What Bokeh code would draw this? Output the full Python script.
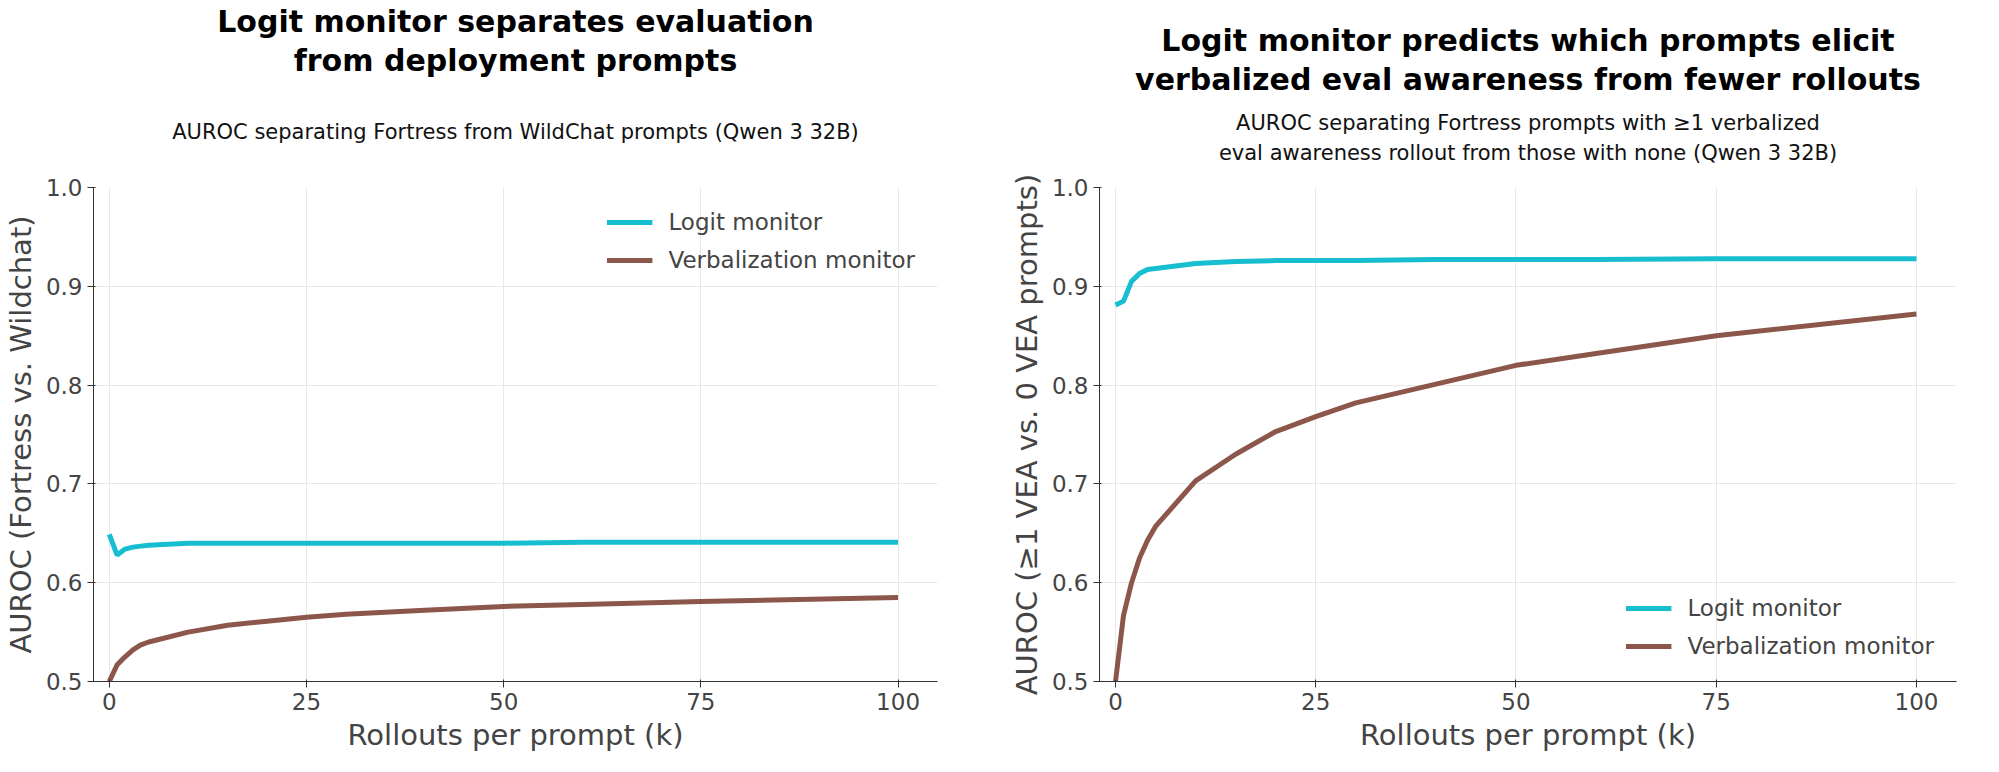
from bokeh.plotting import figure
from bokeh.layouts import row
from bokeh.models import Title, Legend, LegendItem, FixedTicker, Range1d, NumeralTickFormatter
from bokeh.embed import file_html
from bokeh.resources import INLINE

x_left = [0, 1, 2, 3, 4, 5, 10, 15, 20, 25, 30, 40, 50, 60, 75, 100]
left_logit = [0.649, 0.628, 0.634, 0.636, 0.637, 0.638, 0.640, 0.640, 0.640, 0.640, 0.640, 0.640, 0.640, 0.641, 0.641, 0.641]
left_verbal = [0.500, 0.517, 0.525, 0.532, 0.537, 0.540, 0.550, 0.557, 0.561, 0.565, 0.568, 0.572, 0.576, 0.578, 0.581, 0.585]

x_right = [0, 1, 2, 3, 4, 5, 10, 15, 20, 25, 30, 40, 50, 60, 75, 100]
right_logit = [0.881, 0.885, 0.905, 0.913, 0.917, 0.918, 0.923, 0.925, 0.926, 0.926, 0.926, 0.927, 0.927, 0.927, 0.928, 0.928]
right_verbal = [0.500, 0.567, 0.600, 0.625, 0.643, 0.657, 0.703, 0.730, 0.753, 0.768, 0.782, 0.801, 0.820, 0.832, 0.850, 0.872]

x_ticks = [0, 25, 50, 75, 100]
y_ticks = [0.5, 0.6, 0.7, 0.8, 0.9, 1.0]

CYAN = "#17becf"
BROWN = "#8c564b"
FONT = "DejaVu Sans"


def spacer(px):
    return Title(text=" ", text_font=FONT, text_font_size=f"{px}px", standoff=0)


def make(xs, logit, verbal, title_lines, sub_lines, gap_frame, gap_mid, ylabel, legend_loc, width, bl, br):
    p = figure(output_backend="svg", toolbar_location=None,
               width=width, height=754,
               x_range=Range1d(-2, 105), y_range=Range1d(0.5, 1.0),
               min_border_left=bl, min_border_right=br, min_border_top=182, min_border_bottom=72)
    p.outline_line_color = None
    p.add_layout(spacer(gap_frame), "above")
    for t in reversed(sub_lines):
        p.add_layout(Title(text=t, text_font=FONT, text_font_size="21px", text_font_style="normal",
                           align="center", text_color="#111111", standoff=4), "above")
    p.add_layout(spacer(gap_mid), "above")
    for t in reversed(title_lines):
        p.add_layout(Title(text=t, text_font=FONT, text_font_size="30px", text_font_style="bold",
                           align="center", text_color="#000000", standoff=2), "above")
    r1 = p.line(xs, logit, line_color=CYAN, line_width=5)
    r2 = p.line(xs, verbal, line_color=BROWN, line_width=5)
    leg = Legend(items=[LegendItem(label="Logit monitor", renderers=[r1]),
                        LegendItem(label="Verbalization monitor", renderers=[r2])],
                 location=legend_loc, border_line_color=None, background_fill_alpha=0,
                 label_text_font=FONT, label_text_font_size="23px", glyph_width=46,
                 label_standoff=16, spacing=12, margin=22)
    p.add_layout(leg)
    p.xaxis.ticker = FixedTicker(ticks=x_ticks)
    p.yaxis.ticker = FixedTicker(ticks=y_ticks)
    p.yaxis.formatter = NumeralTickFormatter(format="0.0")
    for ax in (p.xaxis, p.yaxis):
        ax.major_label_text_font = FONT
        ax.major_label_text_font_size = "23px"
        ax.axis_label_text_font = FONT
        ax.axis_label_text_font_size = "29px"
        ax.axis_label_text_font_style = "normal"
        ax.minor_tick_line_color = None
        ax.axis_line_color = "#333333"
        ax.major_tick_line_color = "#333333"
        ax.major_tick_out = 6
    p.xaxis.axis_label = "Rollouts per prompt (k)"
    p.yaxis.axis_label = ylabel
    p.grid.grid_line_color = "#e8e8e8"
    p.grid.grid_line_width = 1
    return p


p1 = make(x_left, left_logit, left_verbal,
          ["Logit monitor separates evaluation", "from deployment prompts"],
          ["AUROC separating Fortress from WildChat prompts (Qwen 3 32B)"], 34, 30,
          "AUROC (Fortress vs. Wildchat)", "top_right", 1000, 82, 63)
p2 = make(x_right, right_logit, right_verbal,
          ["Logit monitor predicts which prompts elicit", "verbalized eval awareness from fewer rollouts"],
          ["AUROC separating Fortress prompts with \u22651 verbalized",
           "eval awareness rollout from those with none (Qwen 3 32B)"], 16, 6,
          "AUROC (\u22651 VEA vs. 0 VEA prompts)", "bottom_right", 983, 99, 27)

layout = row(p1, p2)
open("out.html", "w").write(file_html(layout, INLINE))
